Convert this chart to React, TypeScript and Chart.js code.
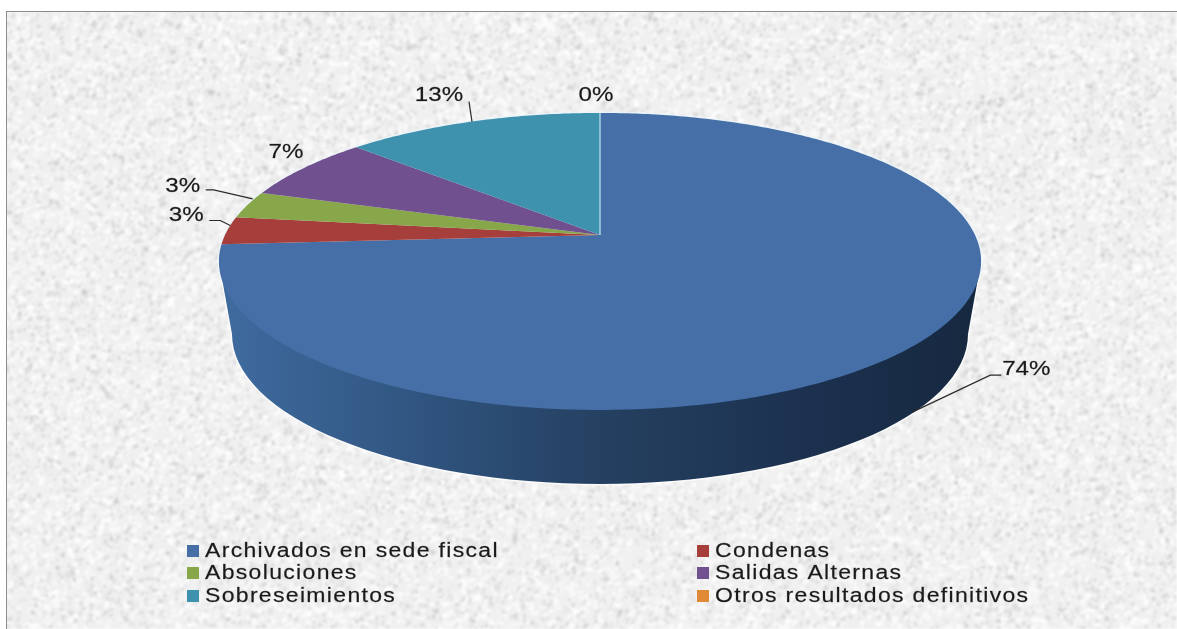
import { useEffect, useRef } from "react";
import { Chart, registerables } from "chart.js";

Chart.register(...registerables);

const categories = [
  "Archivados en sede fiscal",
  "Condenas",
  "Absoluciones",
  "Salidas Alternas",
  "Sobreseimientos",
  "Otros resultados definitivos",
];
const shares = [74, 3, 3, 7, 13, 0];
const sliceColors = ["#456FA6", "#A63F3C", "#87A74A", "#71508F", "#3F92AE", "#E08A38"];

// Perspective disc: the hub sits above the centre of the drawn ellipse.
const HUB_X = 600;
const HUB_Y = 235;
const DISC_A = 375;
const DISC_B = 143.8;
const DISC_K = -0.178;

// Lower rim of the extruded wall.
const RIM_CY = 334;
const RIM_RX = 368;
const RIM_RY = 150;

// Label placement relative to each slice's rim point: text offset and leader bends.
const labelLayout = [
  { dx: 115, dy: 22, leader: [[1, 65], [79, 28], [90, 28]] },
  { dx: -41, dy: -15, leader: [[3, -5], [-7, -10], [-18, -10]] },
  { dx: -65, dy: -19, leader: [[5, -6], [-34, -15], [-42, -15]] },
  { dx: -18, dy: -16, leader: [] },
  { dx: -33, dy: -26, leader: [[0, 0], [-3, -20]] },
  { dx: -4, dy: -18, leader: [] },
];

const LEGEND_COLS = [187, 697];
const LEGEND_ROWS = [551, 573, 596];

const project = (angle: number) => {
  // Chart.js angles start at 3 o'clock; the disc's depth axis runs towards the viewer.
  const u = Math.cos(angle);
  const v = Math.sin(angle);
  const d = 1 + DISC_K * v;
  return { x: HUB_X + (DISC_A * u) / d, y: HUB_Y + (DISC_B * v) / d };
};

const hash = (n: number) => {
  const s = Math.sin(n * 127.1 + 11.7) * 43758.5453;
  return s - Math.floor(s);
};

function paperTexture(w: number, h: number) {
  const raw = document.createElement("canvas");
  raw.width = w;
  raw.height = h;
  const c = raw.getContext("2d")!;
  c.fillStyle = "#f0f0f0";
  c.fillRect(0, 0, w, h);
  const count = Math.floor((w * h) / 20);
  for (let i = 0; i < count; i++) {
    const x = hash(i * 3 + 1) * w;
    const y = hash(i * 3 + 2) * h;
    const t = hash(i * 3 + 3);
    c.fillStyle = t < 0.5 ? `rgba(190,190,190,${0.15 + t * 0.5})` : `rgba(255,255,255,${t * 0.7})`;
    c.beginPath();
    c.ellipse(x, y, 1.2 + t * 2, 1.2 + hash(i + 9) * 1.6, t * 3, 0, Math.PI * 2);
    c.fill();
  }
  const out = document.createElement("canvas");
  out.width = w;
  out.height = h;
  const o = out.getContext("2d")!;
  o.filter = "blur(1.2px)";
  o.drawImage(raw, 0, 0);
  return out;
}

function stretchedText(
  ctx: CanvasRenderingContext2D,
  text: string,
  x: number,
  y: number,
  size: number,
  scaleX: number,
  spacing: number,
  align: CanvasTextAlign
) {
  ctx.save();
  ctx.translate(x, y);
  ctx.scale(scaleX, 1);
  ctx.font = `${size}px "Liberation Sans", Arial, sans-serif`;
  (ctx as any).letterSpacing = `${spacing}px`;
  ctx.textAlign = align;
  ctx.textBaseline = "middle";
  ctx.fillStyle = "#1a1a1a";
  ctx.strokeStyle = "rgba(26,26,26,0.55)";
  ctx.lineWidth = 0.35;
  ctx.fillText(text, 0, 0);
  ctx.strokeText(text, 0, 0);
  ctx.restore();
}

const backdrop = {
  id: "backdrop",
  beforeDraw(chart: any) {
    const { ctx, width, height } = chart;
    ctx.save();
    ctx.fillStyle = "#ffffff";
    ctx.fillRect(0, 0, width, height);
    ctx.drawImage(paperTexture(width - 6, height - 11), 6, 11);
    ctx.fillStyle = "#8c8c8c";
    ctx.fillRect(6, 11, width - 6, 1);
    ctx.fillRect(6, 11, 1, height - 11);
    ctx.restore();
  },
};

const perspectivePie = {
  id: "perspectivePie",
  beforeDatasetDraw(chart: any, args: any) {
    const { ctx } = chart;
    const arcs = args.meta.data;
    const tracePath = (from: number, to: number) => {
      const steps = Math.max(2, Math.ceil((to - from) * 80));
      for (let i = 0; i <= steps; i++) {
        const p = project(from + ((to - from) * i) / steps);
        ctx.lineTo(p.x, p.y);
      }
    };

    // Extruded wall, visible only below the rim's widest line.
    const wall = new Path2D();
    let rightEdge = project(0);
    let leftEdge = project(Math.PI);
    for (let a = -Math.PI; a < Math.PI; a += 0.005) {
      const p = project(a);
      if (p.x > rightEdge.x) rightEdge = p;
      if (p.x < leftEdge.x) leftEdge = p;
    }
    wall.moveTo(rightEdge.x, rightEdge.y);
    wall.lineTo(HUB_X + RIM_RX, RIM_CY);
    wall.ellipse(HUB_X, RIM_CY, RIM_RX, RIM_RY, 0, 0, Math.PI);
    wall.lineTo(leftEdge.x, leftEdge.y);
    wall.closePath();

    const shade = ctx.createLinearGradient(HUB_X - RIM_RX, 0, HUB_X + RIM_RX, 0);
    shade.addColorStop(0, "#3F6A9E");
    shade.addColorStop(0.25, "#305580");
    shade.addColorStop(0.5, "#254061");
    shade.addColorStop(0.78, "#1C314F");
    shade.addColorStop(1, "#172941");
    ctx.save();

    // Pale halo around the whole silhouette, covered again by the fills.
    ctx.beginPath();
    tracePath(-Math.PI, Math.PI);
    ctx.closePath();
    ctx.strokeStyle = "rgba(235,245,250,0.8)";
    ctx.lineWidth = 3;
    ctx.stroke();
    ctx.strokeStyle = "rgba(255,255,255,0.75)";
    ctx.stroke(wall);

    ctx.fillStyle = shade;
    ctx.fill(wall);

    // Top face: one wedge per value.
    arcs.forEach((arc: any, i: number) => {
      const { startAngle, endAngle } = arc;
      ctx.beginPath();
      ctx.moveTo(HUB_X, HUB_Y);
      tracePath(startAngle, endAngle);
      ctx.closePath();
      if (endAngle - startAngle > 0) {
        ctx.fillStyle = sliceColors[i];
        ctx.fill();
      } else {
        // An empty share still leaves its hairline on the face.
        ctx.strokeStyle = "#A9D3E4";
        ctx.lineWidth = 1;
        ctx.stroke();
      }
    });
    ctx.restore();
    return false;
  },
  afterDraw(chart: any) {
    const { ctx } = chart;
    const arcs = chart.getDatasetMeta(0).data;
    ctx.save();
    arcs.forEach((arc: any, i: number) => {
      const rim = project((arc.startAngle + arc.endAngle) / 2);
      const layout = labelLayout[i];
      if (layout.leader.length) {
        ctx.beginPath();
        layout.leader.forEach(([dx, dy], j) => {
          if (j === 0) ctx.moveTo(rim.x + dx, rim.y + dy);
          else ctx.lineTo(rim.x + dx, rim.y + dy);
        });
        ctx.strokeStyle = "#2a2a2a";
        ctx.lineWidth = 1.2;
        ctx.stroke();
      }
      stretchedText(ctx, `${shares[i]}%`, rim.x + layout.dx, rim.y + layout.dy, 21, 1.15, 0, "center");
    });

    categories.forEach((name, i) => {
      const x = LEGEND_COLS[i % 2];
      const y = LEGEND_ROWS[Math.floor(i / 2)];
      ctx.fillStyle = sliceColors[i];
      ctx.fillRect(x, y - 6, 12, 12);
      stretchedText(ctx, name, x + 18, y, 20, 1.15, 1.15, "left");
    });
    ctx.restore();
  },
};

export default function App() {
  const ref = useRef<HTMLCanvasElement>(null);
  useEffect(() => {
    const chart = new Chart(ref.current!, {
      type: "pie",
      data: {
        labels: categories,
        datasets: [{ data: shares, backgroundColor: sliceColors, borderWidth: 0 }],
      },
      options: {
        responsive: false,
        animation: false,
        plugins: { legend: { display: false }, tooltip: { enabled: false } },
      },
      plugins: [backdrop, perspectivePie],
    } as any);
    return () => chart.destroy();
  }, []);
  return (
    <div style={{ position: "fixed", left: 0, top: 0 }}>
      <canvas ref={ref} width={1177} height={629} style={{ display: "block" }} />
    </div>
  );
}
